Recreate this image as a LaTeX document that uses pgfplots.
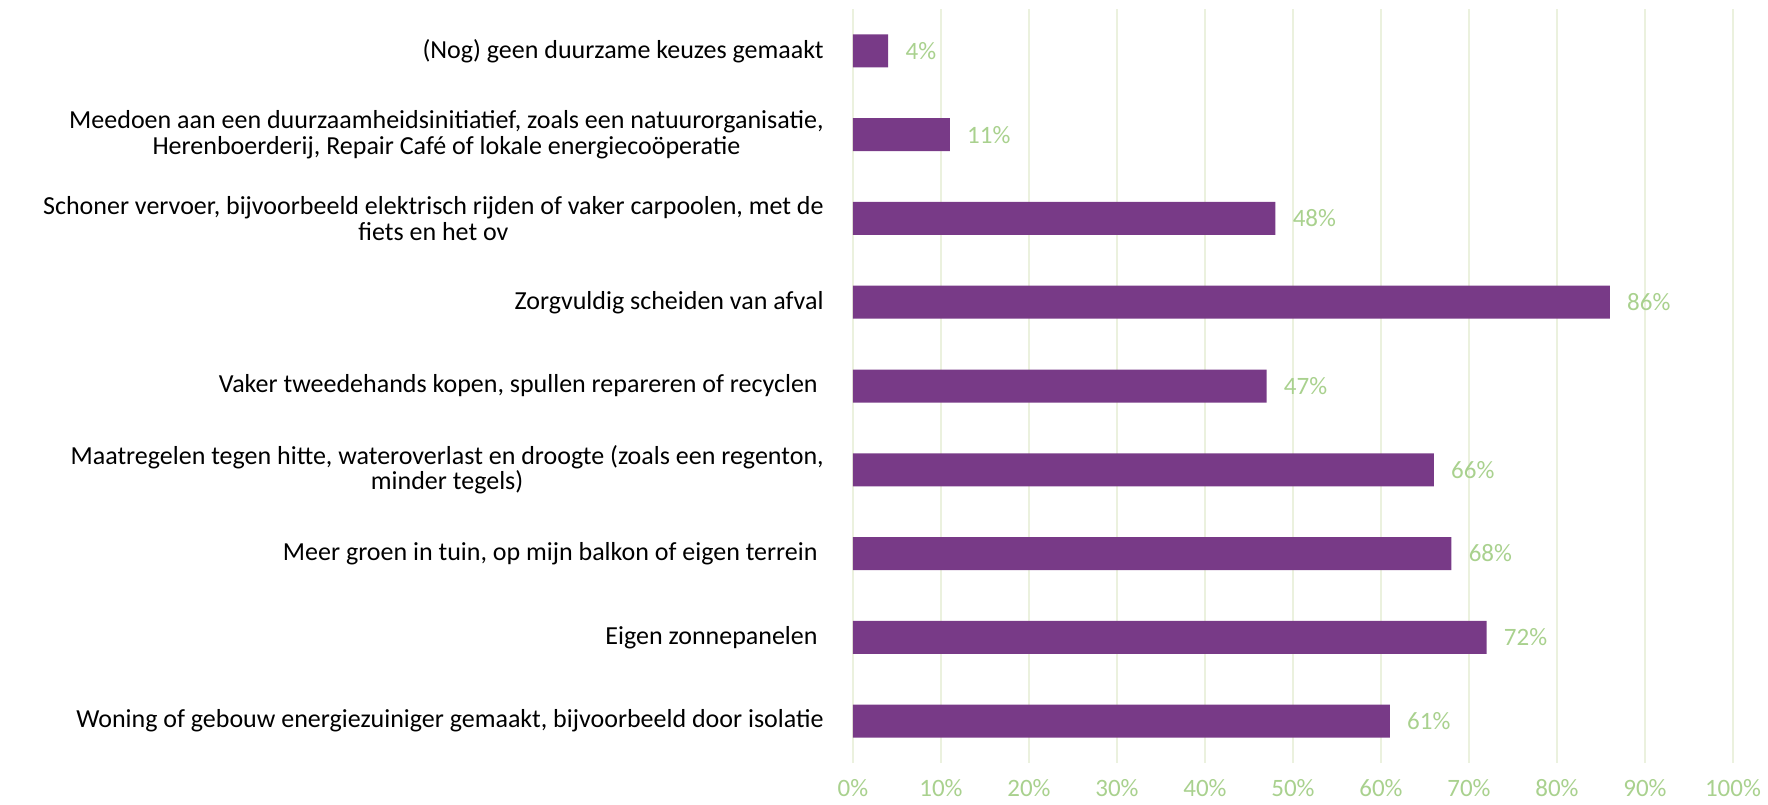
\documentclass[border=0pt]{standalone}
\usepackage{fontspec}
\setmainfont{Carlito}
\usepackage{pgfplots}
\pgfplotsset{compat=1.18}

\definecolor{barpurple}{RGB}{120,58,135}
\definecolor{labgreen}{RGB}{169,209,142}
\definecolor{gridgreen}{RGB}{235,241,222}

\begin{document}
\begin{tikzpicture}
\path[use as bounding box] (-426.5pt,-20.5pt) rectangle (457.5pt,381.5pt);
\begin{axis}[
  at={(0,0)}, anchor=south west,
  scale only axis, width=440pt, height=377pt,
  xbar, bar width=16.5pt,
  xmin=0, xmax=100, ymin=-0.5, ymax=8.5,
  axis line style={draw=none},
  xtick={0,10,...,100}, ytick={0,...,8},
  xmajorgrids, grid style={gridgreen, line width=1pt},
  major tick length=0pt, tick style={draw=none},
  /pgf/number format/assume math mode=true,
  xticklabel={\pgfmathprintnumber{\tick}\%},
  xticklabel style={font=\fontsize{12.5}{14}\selectfont, text=labgreen, anchor=north, inner sep=0pt, yshift=-8pt},
  yticklabel style={font=\fontsize{13}{12.8}\selectfont, align=center, anchor=east, inner sep=0pt, xshift=-14.5pt},
  yticklabels={
    {Woning of gebouw energiezuiniger gemaakt, bijvoorbeeld door isolatie},
    {Eigen zonnepanelen\hspace*{3pt}},
    {Meer groen in tuin, op mijn balkon of eigen terrein\hspace*{3pt}},
    {Maatregelen tegen hitte, wateroverlast en droogte (zoals een regenton,\\ minder tegels)},
    {Vaker tweedehands kopen, spullen repareren of recyclen\hspace*{3pt}},
    {Zorgvuldig scheiden van afval},
    {Schoner vervoer, bijvoorbeeld elektrisch rijden of vaker carpoolen, met de\\ fiets en het ov},
    {Meedoen aan een duurzaamheidsinitiatief, zoals een natuurorganisatie,\\ Herenboerderij, Repair Café of lokale energiecoöperatie},
    {(Nog) geen duurzame keuzes gemaakt}
  },
  nodes near coords={\pgfmathprintnumber{\pgfplotspointmeta}\%},
  nodes near coords style={font=\fontsize{12.5}{14}\selectfont, text=labgreen, anchor=west, inner sep=0pt, xshift=8.5pt},
]
\addplot[fill=barpurple, draw=none] coordinates {
  (61,0) (72,1) (68,2) (66,3) (47,4) (86,5) (48,6) (11,7) (4,8)
};
\end{axis}
\end{tikzpicture}
\end{document}
